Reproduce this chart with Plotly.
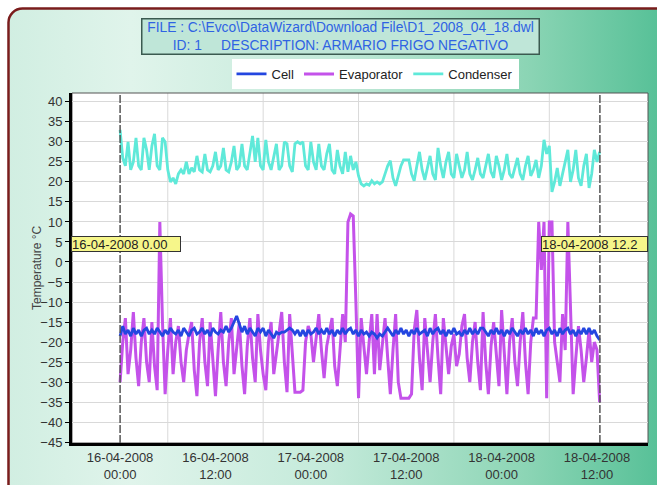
import base64
import pandas as pd
import plotly.graph_objects as go

# ---------------- data (20-minute samples from 16-04-2008 00:00) ----------------
start_time = "2008-04-16 00:00"
sample_step = "20min"

cell = [
    -18.5, -16, -18, -17, -18.5, -16.5, -18, -17, -18.5, -17,
    -16.5, -18, -17, -18, -16.5, -17.5, -18.5, -17, -18, -16.5,
    -17.5, -18, -17, -18.5, -16.5, -17.5, -18.5, -17, -16.5, -18,
    -17.5, -16.5, -18, -17, -18.5, -16.5, -17.5, -18, -17, -17.5,
    -16, -17.5, -16.5, -15, -13.5, -15.5, -17.5, -16, -18, -16.5,
    -17.5, -18.5, -16.5, -17.5, -16.5, -18.5, -17, -18, -19, -17.5,
    -18, -17.5, -17.5, -17, -16.5, -17, -18, -17, -18.5, -17,
    -18.5, -17, -18, -17.5, -16.5, -18, -17, -18, -16.5, -18,
    -17, -18.5, -17, -18, -16.5, -18, -17, -16.5, -18, -17,
    -18.5, -17, -18, -17.5, -18.5, -17.5, -18, -19, -18, -18.5,
    -17.5, -16.5, -17.5, -18.5, -17, -18, -16.5, -18, -17, -18.5,
    -17, -18, -16.5, -18, -17.5, -17, -18.5, -16.5, -18, -17,
    -16.5, -18, -17, -18.5, -17, -18, -16.5, -18, -17.5, -18.5,
    -17, -18, -16.5, -18, -17, -18, -16.5, -16.5, -17.5, -18.5,
    -17, -18, -16.5, -18, -17, -18.5, -17, -18, -16.5, -17.5,
    -18.5, -17, -18, -16.5, -18, -17, -18.5, -16.5, -18, -17,
    -18.5, -17, -16.5, -18, -17, -18.5, -16.5, -18, -17, -16.5,
    -18, -17, -18.5, -17, -18, -16.5, -18, -16.5, -18, -17,
    -18.5, -19.5,
]

evaporator = [
    -30, -20, -14, -28, -22, -12.5, -24, -31, -20, -14,
    -25, -30, -15, -26, -32, 10, -15, -33, -22, -14,
    -28, -20, -16, -25, -30, -22, -18, -15, -27, -33.5,
    -20, -14, -25, -31, -15, -24, -33.5, -22, -12.5, -25,
    -31, -20, -14, -28, -22, -15, -26, -33, -21, -14,
    -24, -30, -13, -22, -28, -32, -20, -15, -28, -23,
    -17, -12.5, -25, -32.5, -13, -24, -32.5, -32.5, -32.5, -32,
    -20, -16, -18, -25, -19, -13, -22, -29, -21, -17,
    -14, -26, -31, -22, -13, -20, 10, 12, 11.5, -10,
    -34, -14, -22, -28, -20, -13, -28, -13, -27, -20,
    -14, -24, -33, -22, -13, -30, -34, -34, -34, -34,
    -33, -17, -12, -24, -32, -14, -22, -30, -20, -13,
    -24, -33, -14, -22, -28, -21, -18, -26, -23, -16,
    -13, -24, -30, -20, -15, -25, -32, -12.5, -25, -33,
    -21, -15, -24, -31, -12, -22, -33, -20, -14, -25,
    -31, -20, -12.5, -25, -33, -20, -14, -14, 10, -2,
    10, -34, 10, 10, -20, -25, -30, -13, -22, 10,
    -15, -33, -24, -16, -22, -30, -24, -17, -25, -20,
    -22, -35,
]

condenser = [
    33, 26, 24, 30, 23, 25, 31, 24, 23, 31,
    28, 23, 29, 32, 24, 23, 31, 30, 23, 20,
    21, 19.5, 22, 23, 22, 25, 22, 23.5, 22.5, 26.5,
    23, 22.5, 27, 23, 22.5, 24, 27.5, 23, 24, 28.5,
    23, 22.5, 25, 29, 23, 24, 29.5, 24, 23, 27,
    31.5, 25, 31, 24, 23, 30.5, 25, 23, 26, 29.5,
    23, 24, 30, 29.5, 24, 22.5, 29.5, 30, 29.5, 30,
    24, 23, 30, 25, 23, 29.5, 24, 23, 27, 29.5,
    23, 22, 28, 24, 22, 27.5, 22.5, 26.5, 23, 25,
    21.5, 19.5, 19, 19.5, 19.2, 20.3, 19.5, 20, 19.5, 20,
    22, 24, 25.3, 21, 19, 21.5, 24, 25.5, 25.5, 25.5,
    22, 20.3, 24, 27.5, 23, 20.5, 23.5, 26.5, 22, 20.5,
    28.5, 24, 21, 25, 27.5, 22, 21, 27, 24, 21,
    23, 27.5, 22, 20.5, 23, 26, 22, 21, 24, 27,
    22.5, 21, 26.5, 24, 20.5, 23, 27, 22, 21, 23.5,
    26, 22, 20.5, 24, 26.5, 21.5, 23, 25.5, 21, 24,
    30.5, 27, 29, 17.5, 20, 23.5, 19, 22, 25, 28,
    20, 23, 28, 21, 19, 24, 27, 18.5, 22, 28,
    25, 27.5,
]

x_tick_vals = ["2008-04-16 00:00", "2008-04-16 12:00", "2008-04-17 00:00",
               "2008-04-17 12:00", "2008-04-18 00:00", "2008-04-18 12:00"]
x_tick_text = ["16-04-2008<br>00:00", "16-04-2008<br>12:00", "17-04-2008<br>00:00",
               "17-04-2008<br>12:00", "18-04-2008<br>00:00", "18-04-2008<br>12:00"]
x_grid_vals = ["2008-04-16 06:00", "2008-04-16 18:00", "2008-04-17 06:00",
               "2008-04-17 18:00", "2008-04-18 06:00"]
x_range = ["2008-04-15 17:57", "2008-04-18 18:25"]
y_tick_vals = list(range(-45, 41, 5))
y_range = [-45.2, 42.2]
y_title = "Temperature °C"

cursor_start = "2008-04-16 00:00"
cursor_end = "2008-04-18 12:22"
cursor_start_text = "16-04-2008 0.00"
cursor_end_text = "18-04-2008 12.2"

title_line1 = "FILE : C:\\Evco\\DataWizard\\Download File\\D1_2008_04_18.dwl"
title_line2 = "ID: 1\u00a0\u00a0\u00a0\u00a0\u00a0DESCRIPTION: ARMARIO FRIGO NEGATIVO"

times = pd.date_range(start_time, periods=len(cell), freq=sample_step)
assert len(cell) == len(evaporator) == len(condenser) == 182

# ---------------- geometry ----------------
W, H = 657, 485
ML, MR, MT, MB = 72, 9, 93, 42
PW, PH = W - ML - MR, H - MT - MB

bg_svg = f'''<svg xmlns="http://www.w3.org/2000/svg" width="{W}" height="{H}" viewBox="0 0 {W} {H}" preserveAspectRatio="none">
<defs><linearGradient id="g" gradientUnits="userSpaceOnUse" x1="0" y1="0" x2="{W}" y2="0">
<stop offset="0" stop-color="#d0eee1"/>
<stop offset="0.2" stop-color="#e0f4eb"/>
<stop offset="0.5" stop-color="#c4eada"/>
<stop offset="0.8" stop-color="#8cd5b5"/>
<stop offset="1" stop-color="#58c198"/>
</linearGradient></defs>
<rect width="{W}" height="{H}" fill="#ffffff"/>
<rect x="8.5" y="8.5" width="720" height="540" rx="14" ry="14" fill="url(#g)" stroke="#7a1c1c" stroke-width="2.5"/>
<rect x="{ML}" y="{MT}" width="{PW}" height="{PH}" fill="#ffffff"/>
</svg>'''
bg_uri = "data:image/svg+xml;base64," + base64.b64encode(bg_svg.encode()).decode()

fig = go.Figure()
fig.add_trace(go.Scatter(x=times, y=condenser, name="Condenser", mode="lines",
                         line=dict(color="#5fe9d9", width=2.8), legendrank=3))
fig.add_trace(go.Scatter(x=times, y=evaporator, name="Evaporator", mode="lines",
                         line=dict(color="#c452ea", width=3), legendrank=2))
fig.add_trace(go.Scatter(x=times, y=cell, name="Cell", mode="lines",
                         line=dict(color="#2346e0", width=2.8), legendrank=1))

fig.update_layout(
    width=W, height=H, autosize=False,
    margin=dict(l=ML, r=MR, t=MT, b=MB, pad=0, autoexpand=False),
    paper_bgcolor="#ffffff", plot_bgcolor="rgba(0,0,0,0)",
    font=dict(family="Liberation Sans, Arial, sans-serif", size=13, color="#333333"),
    showlegend=True,
    legend=dict(orientation="h", x=(375 - ML) / PW, xanchor="center",
                y=1 + (MT - 59) / PH, yanchor="top", bgcolor="#ffffff",
                font=dict(size=13, color="#222222"), traceorder="normal",
                itemwidth=30, tracegroupgap=0, borderwidth=0),
    images=[dict(source=bg_uri, xref="paper", yref="paper",
                 x=-ML / PW, y=1 + MT / PH, sizex=W / PW, sizey=H / PH,
                 xanchor="left", yanchor="top", sizing="stretch", layer="below")],
)

fig.update_xaxes(
    type="date", range=x_range, tickmode="array", tickvals=x_tick_vals, ticktext=x_tick_text,
    showgrid=False, ticks="", showline=True, linecolor="#000000", linewidth=3,
    tickfont=dict(size=13, color="#333333"), zeroline=False, automargin=False,
)
fig.update_yaxes(
    range=y_range, tickmode="array", tickvals=y_tick_vals,
    showgrid=True, gridcolor="#d9d9d9", gridwidth=1, zeroline=False,
    ticks="outside", ticklen=4, tickcolor="#000000", tickwidth=1,
    showline=True, linecolor="#000000", linewidth=3, automargin=False,
    tickfont=dict(size=13, color="#333333"),
)

# y-axis title placed close to the tick labels
fig.add_annotation(x=-(ML - 37) / PW, xref="paper", y=0.5, yref="paper", text=y_title,
                   textangle=-90, showarrow=False, xanchor="center", yanchor="middle",
                   font=dict(size=12, color="#444444"))

# vertical grid lines (06:00 / 18:00)
for gx in x_grid_vals:
    fig.add_shape(type="line", xref="x", yref="paper", x0=gx, x1=gx, y0=0, y1=1,
                  line=dict(color="#d9d9d9", width=1), layer="below")

# plot frame (top / right thin border)
fig.add_shape(type="rect", xref="paper", yref="paper", x0=0, x1=1, y0=0, y1=1,
              line=dict(color="#555555", width=1), layer="below")

# cursor lines
for cx in (cursor_start, cursor_end):
    fig.add_shape(type="line", xref="x", yref="paper", x0=cx, x1=cx, y0=0, y1=1,
                  line=dict(color="#555555", width=1.5, dash="8px,2px"), layer="above")

# cursor labels
label_y = 1 - (244 - MT) / PH
fig.add_annotation(x=cursor_start, xref="x", y=label_y, yref="paper", text=cursor_start_text,
                   showarrow=False, xanchor="left", xshift=-49, align="left",
                   bgcolor="#f6f68a", bordercolor="#333333", borderwidth=1, borderpad=0,
                   width=108, height=14, font=dict(size=13, color="#222222"))
fig.add_annotation(x=cursor_end, xref="x", y=label_y, yref="paper", text=cursor_end_text,
                   showarrow=False, xanchor="left", xshift=-59, align="left",
                   bgcolor="#f6f68a", bordercolor="#333333", borderwidth=1, borderpad=0,
                   width=105, height=14, font=dict(size=13, color="#222222"))

# title box
fig.add_annotation(x=(340 - ML) / PW, xref="paper", y=1 + (MT - 36) / PH, yref="paper",
                   text=title_line1 + "<br>" + title_line2, showarrow=False,
                   xanchor="center", yanchor="middle", align="center",
                   bgcolor="#bfe6d8", bordercolor="#3b5a50", borderwidth=1.5, borderpad=1,
                   width=394, height=32, font=dict(size=13.8, color="#2f63e3"))

fig.write_html("out.html", config={"displayModeBar": False},
               post_script="document.body.style.margin='0';")
